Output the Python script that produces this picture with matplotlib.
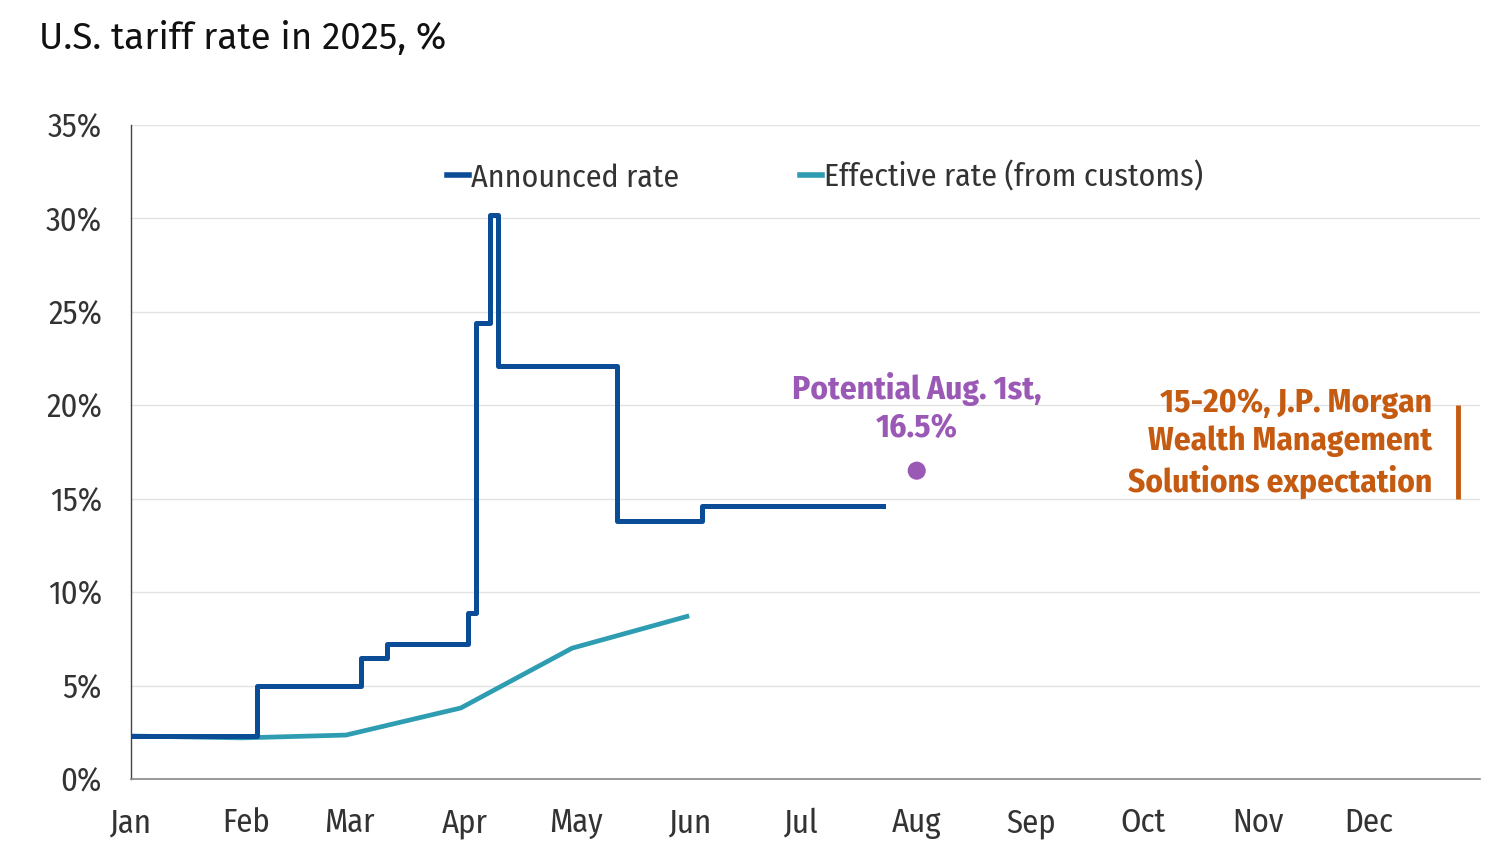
import numpy as np
import matplotlib
matplotlib.use("Agg")
import matplotlib.pyplot as plt
from matplotlib.lines import Line2D

# announced tariff rate, changes (step after each date)
announced_dates = ["2025-01-01", "2025-02-04", "2025-03-04", "2025-03-11", "2025-04-02",
                   "2025-04-04", "2025-04-08", "2025-04-10", "2025-05-12", "2025-06-04",
                   "2025-07-23"]
announced_vals = [2.3, 5.0, 6.5, 7.2, 8.9, 24.4, 30.2, 22.1, 13.8, 14.6, 14.6]

# effective rate from customs, month-end
effective_dates = ["2025-01-01", "2025-01-31", "2025-02-28", "2025-03-31", "2025-04-30", "2025-05-31"]
effective_vals = [2.3, 2.2, 2.35, 3.8, 7.0, 8.7]

potential_date = "2025-08-01"
potential_val = 16.5
jpm_low, jpm_high = 15, 20

month_labels = ["Jan", "Feb", "Mar", "Apr", "May", "Jun", "Jul", "Aug", "Sep", "Oct", "Nov", "Dec"]

C_ANN = "#0B4C97"
C_EFF = "#2E9DB2"
C_PUR = "#9B59B6"
C_ORA = "#C55A11"
TXT = "#333333"

COND = ["Fira Sans Condensed", "Roboto Condensed", "Liberation Sans", "DejaVu Sans"]
plt.rcParams["font.family"] = COND

fig = plt.figure(figsize=(15.02, 8.58), dpi=100)
ax = fig.add_axes([0.0872, 0.0921, 0.8982, 0.7622])

ad = np.array(announced_dates, dtype="datetime64[D]")
ed = np.array(effective_dates, dtype="datetime64[D]")

ax.plot(ad, announced_vals, drawstyle="steps-post", color=C_ANN, lw=3.6, zorder=3)
ax.plot(ed, effective_vals, color=C_EFF, lw=3.4, zorder=2)

pd_ = np.datetime64(potential_date)
ax.scatter([pd_], [potential_val], s=170, color=C_PUR, zorder=4, edgecolors="none")
ax.text(pd_, 19.82, "Potential Aug. 1st,\n16.5%", color=C_PUR, fontsize=24, fontweight="bold",
        ha="center", va="center", linespacing=1.26)

bar_x = np.datetime64("2025-12-25")
ax.plot([bar_x, bar_x], [jpm_low, jpm_high], color=C_ORA, lw=3.5, solid_capstyle="butt")
ax.text(np.datetime64("2025-12-18"), 17.98,
        "15-20%, J.P. Morgan\nWealth Management\nSolutions expectation",
        color=C_ORA, fontsize=24, fontweight="bold", ha="right", va="center", linespacing=1.26)

ax.set_xlim(np.datetime64("2025-01-01"), np.datetime64("2025-12-31"))
ax.set_ylim(0, 35)
ax.set_yticks(range(0, 36, 5))
ax.set_yticklabels([f"{v}%" for v in range(0, 36, 5)])
month_ticks = np.array([f"2025-{m:02d}-01" for m in range(1, 13)], dtype="datetime64[D]")
ax.set_xticks(month_ticks)
ax.set_xticklabels(month_labels)
ax.tick_params(axis="both", length=0, labelsize=23.5, colors=TXT)
ax.tick_params(axis="x", pad=20)
ax.tick_params(axis="y", pad=21)

ax.grid(axis="y", color="#e3e3e3", lw=1)
ax.set_axisbelow(True)
for s in ["top", "right"]:
    ax.spines[s].set_visible(False)
ax.spines["left"].set_color("#444444")
ax.spines["bottom"].set_color("#888888")
ax.spines["left"].set_linewidth(1)
ax.spines["bottom"].set_linewidth(1.2)

handles = [Line2D([0], [0], color=C_ANN, lw=4),
           Line2D([0], [0], color=C_EFF, lw=4)]
leg = ax.legend(handles, ["Announced rate", "Effective rate (from customs)"], loc="center left",
                bbox_to_anchor=(0.234, 0.92), ncol=2, frameon=False, fontsize=23,
                handlelength=0.7, handletextpad=0.05, columnspacing=3.8,
                borderpad=0, borderaxespad=0)
for t in leg.get_texts():
    t.set_color(TXT)

fig.text(0.026, 0.955, "U.S. tariff rate in 2025, %", fontsize=26.5, color="#111111", va="center",
         family=["Fira Sans", "Noto Sans", "DejaVu Sans"])

fig.savefig("out.png", dpi=100)
